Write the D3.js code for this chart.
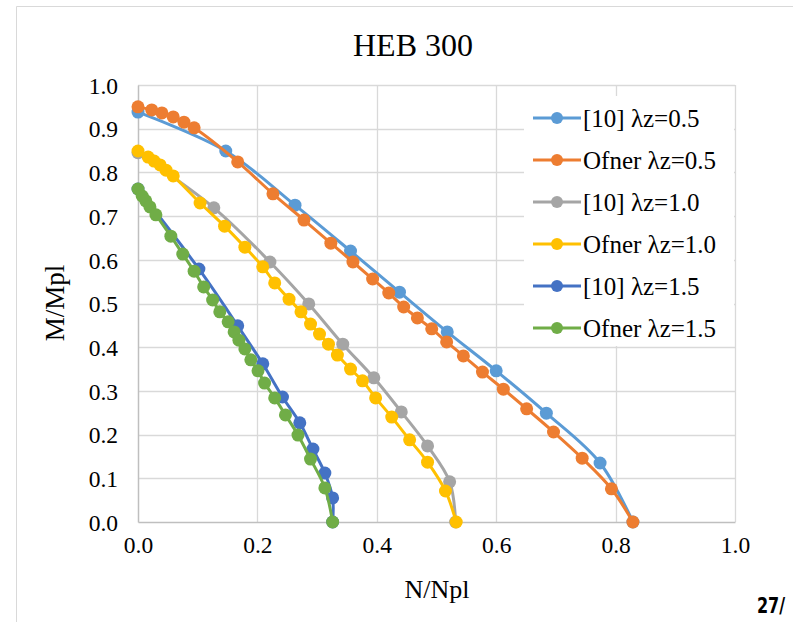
<!DOCTYPE html>
<html>
<head>
<meta charset="utf-8">
<script src="https://cdn.jsdelivr.net/npm/d3@7"></script>
<style>
  html, body { margin: 0; padding: 0; background: #fff; }
  svg text { font-family: "Liberation Serif", "DejaVu Serif", serif; fill: #000; }
</style>
</head>
<body>
<svg id="chart" width="793" height="622"></svg>
<script>
// Interaction curves M/Mpl vs N/Npl for HEB 300
const seriesNames = ["[10] λz=0.5", "Ofner λz=0.5", "[10] λz=1.0", "Ofner λz=1.0", "[10] λz=1.5", "Ofner λz=1.5"];
const seriesColors = ["#5B9BD5", "#ED7D31", "#A5A5A5", "#FFC000", "#4472C4", "#70AD47"];

const ref05N = [0, 0.147, 0.263, 0.356, 0.438, 0.518, 0.600, 0.684, 0.774, 0.829];
const ref05M = [0.938, 0.849, 0.725, 0.620, 0.526, 0.435, 0.346, 0.249, 0.135, 0];

const ofn05N = [0, 0.023, 0.040, 0.059, 0.077, 0.094, 0.167, 0.226, 0.278, 0.323, 0.360, 0.393, 0.420, 0.445, 0.468, 0.492, 0.517, 0.545, 0.577, 0.612, 0.651, 0.696, 0.744, 0.793, 0.829];
const ofn05M = [0.950, 0.943, 0.936, 0.927, 0.915, 0.902, 0.824, 0.751, 0.691, 0.638, 0.595, 0.556, 0.524, 0.492, 0.467, 0.442, 0.412, 0.380, 0.343, 0.304, 0.259, 0.206, 0.146, 0.076, 0];

const ref10N = [0, 0.127, 0.221, 0.286, 0.343, 0.395, 0.441, 0.485, 0.522, 0.532];
const ref10M = [0.845, 0.719, 0.595, 0.499, 0.407, 0.330, 0.252, 0.174, 0.092, 0];

const ofn10N = [0, 0.017, 0.027, 0.037, 0.047, 0.059, 0.104, 0.145, 0.179, 0.209, 0.229, 0.253, 0.273, 0.289, 0.304, 0.319, 0.334, 0.356, 0.376, 0.398, 0.425, 0.455, 0.485, 0.515, 0.533];
const ofn10M = [0.849, 0.835, 0.826, 0.817, 0.805, 0.792, 0.730, 0.677, 0.629, 0.584, 0.547, 0.510, 0.481, 0.453, 0.430, 0.407, 0.382, 0.350, 0.323, 0.284, 0.240, 0.188, 0.137, 0.071, 0];

const ref15N = [0, 0.102, 0.167, 0.209, 0.242, 0.271, 0.293, 0.313, 0.326, 0.326];
const ref15M = [0.762, 0.579, 0.449, 0.362, 0.286, 0.227, 0.167, 0.112, 0.055, 0];

const ofn15N = [0, 0.007, 0.013, 0.020, 0.030, 0.055, 0.075, 0.094, 0.110, 0.125, 0.137, 0.151, 0.161, 0.169, 0.179, 0.189, 0.201, 0.212, 0.229, 0.247, 0.268, 0.289, 0.313, 0.326];
const ofn15M = [0.762, 0.746, 0.735, 0.721, 0.703, 0.654, 0.613, 0.574, 0.538, 0.508, 0.481, 0.458, 0.435, 0.416, 0.396, 0.371, 0.346, 0.318, 0.284, 0.245, 0.199, 0.144, 0.078, 0];

const xTicks = [0, 0.2, 0.4, 0.6, 0.8, 1.0];
const yTicks = [0, 0.1, 0.2, 0.3, 0.4, 0.5, 0.6, 0.7, 0.8, 0.9, 1.0];

const seriesN = [ref05N, ofn05N, ref10N, ofn10N, ref15N, ofn15N];
const seriesM = [ref05M, ofn05M, ref10M, ofn10M, ref15M, ofn15M];
const series = seriesNames.map((name, i) => ({
  name, color: seriesColors[i],
  points: seriesN[i].map((n, j) => ({ n, m: seriesM[i][j] }))
}));

const serif = "'Liberation Serif', 'DejaVu Serif', serif";
const svg = d3.select("#chart");

// chart frame edges
svg.append("line").attr("x1", 16.5).attr("x2", 16.5).attr("y1", 6.5).attr("y2", 622)
  .attr("stroke", "#d9d9d9").attr("stroke-width", 1);
svg.append("line").attr("x1", 16.5).attr("x2", 793).attr("y1", 6.5).attr("y2", 6.5)
  .attr("stroke", "#d9d9d9").attr("stroke-width", 1);

const x = d3.scaleLinear().domain([0, 1]).range([138, 735]);
const y = d3.scaleLinear().domain([0, 1]).range([522, 85]);

// gridlines
const grid = svg.append("g");
grid.selectAll(".gy").data(yTicks.filter(t => t > 0)).join("line")
  .attr("x1", x(0)).attr("x2", x(1))
  .attr("y1", d => Math.round(y(d)) + 0.5).attr("y2", d => Math.round(y(d)) + 0.5)
  .attr("stroke", "#d9d9d9").attr("stroke-width", 1.3);
grid.selectAll(".gx").data(xTicks.filter(t => t > 0)).join("line")
  .attr("x1", d => Math.round(x(d)) + 0.5).attr("x2", d => Math.round(x(d)) + 0.5)
  .attr("y1", y(0)).attr("y2", y(1))
  .attr("stroke", "#d9d9d9").attr("stroke-width", 1.3);

// axes
const xAxis = d3.axisBottom(x).tickValues(xTicks).tickFormat(d3.format(".1f")).tickSize(0).tickPadding(14);
const yAxis = d3.axisLeft(y).tickValues(yTicks).tickFormat(d3.format(".1f")).tickSize(0).tickPadding(20);
const gx = svg.append("g").attr("transform", `translate(0,${y(0)})`).call(xAxis);
const gy = svg.append("g").attr("transform", `translate(${x(0)},0)`).call(yAxis);
[gx, gy].forEach(g => {
  g.attr("font-family", null).attr("font-size", null);
  g.select(".domain").attr("stroke", "#bfbfbf").attr("stroke-width", 1.5);
  g.selectAll("text").style("font-family", serif).style("font-size", "23.5px").attr("fill", "#000");
});
gy.selectAll("text").attr("dy", "0.35em");

// series lines and markers
const line = d3.line().x(d => x(d.n)).y(d => y(d.m)).curve(d3.curveCatmullRom.alpha(0.5));
const plot = svg.append("g");
series.forEach(s => {
  const g = plot.append("g");
  g.append("path").datum(s.points).attr("d", line)
    .attr("fill", "none").attr("stroke", s.color).attr("stroke-width", 3)
    .attr("stroke-linejoin", "round");
  g.selectAll("circle").data(s.points).join("circle")
    .attr("cx", d => x(d.n)).attr("cy", d => y(d.m)).attr("r", 6.5)
    .attr("fill", s.color);
});

// legend
const legend = svg.append("g");
legend.append("rect").attr("x", 524).attr("y", 96).attr("width", 210).attr("height", 250).attr("fill", "#fff");
series.forEach((s, i) => {
  const ly = 118 + i * 42;
  legend.append("line").attr("x1", 533).attr("x2", 581).attr("y1", ly).attr("y2", ly)
    .attr("stroke", s.color).attr("stroke-width", 3);
  legend.append("circle").attr("cx", 557).attr("cy", ly).attr("r", 6).attr("fill", s.color);
  legend.append("text").attr("x", 583).attr("y", ly).attr("dy", "0.35em")
    .style("font-family", serif).style("font-size", "25px").text(s.name);
});

// titles
svg.append("text").attr("x", 413).attr("y", 56).attr("text-anchor", "middle")
  .style("font-family", serif).style("font-size", "32px").text("HEB 300");
svg.append("text").attr("x", 437).attr("y", 598).attr("text-anchor", "middle")
  .style("font-family", serif).style("font-size", "26px").text("N/Npl");
svg.append("text").attr("transform", "translate(64,303) rotate(-90)").attr("text-anchor", "middle")
  .style("font-family", serif).style("font-size", "27px").text("M/Mpl");

// page number
svg.append("text").attr("x", 771).attr("y", 613).attr("text-anchor", "middle")
  .attr("transform", "translate(771,0) scale(0.85,1) translate(-771,0)")
  .style("font-family", "'DejaVu Sans Condensed', 'DejaVu Sans', sans-serif")
  .style("font-weight", "bold").style("font-size", "21px").text("27/");
</script>
</body>
</html>
